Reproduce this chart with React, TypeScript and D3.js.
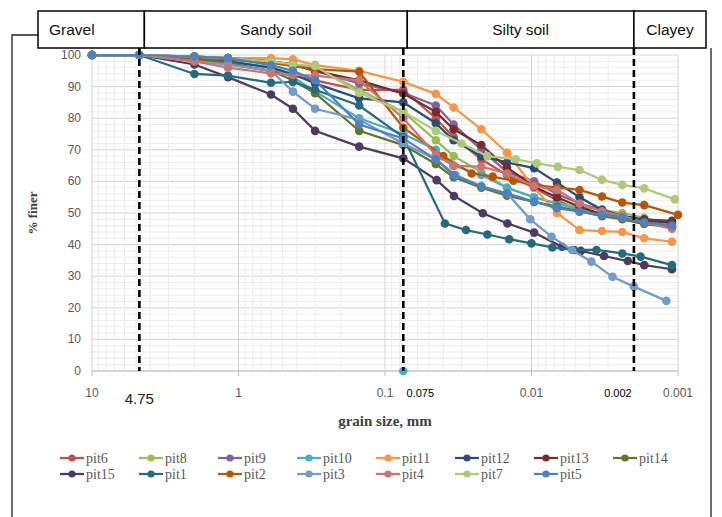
import * as d3 from 'd3';

// sieve sizes (mm) shared by every pit
const sieveSizes = [10, 4.75, 2.0, 1.18, 0.6, 0.425, 0.3, 0.15, 0.075];
// common hydrometer diameters (mm)
const hydroA = [0.045, 0.034, 0.022, 0.0147, 0.0096, 0.0067, 0.0047, 0.0033, 0.0024, 0.0017, 0.0011];
const hydroPit15 = [0.0444, 0.0338, 0.0215, 0.0146, 0.0096, 0.0062, 0.0046, 0.0032, 0.0022, 0.0017, 0.0011];
const hydroPit1 = [0.039, 0.028, 0.02, 0.0142, 0.01, 0.0072, 0.0051, 0.0036, 0.0024, 0.0018, 0.0011];
const hydroPit2 = [0.04, 0.0256, 0.0184, 0.0133, 0.0096, 0.0067, 0.0047, 0.0033, 0.0024, 0.0017, 0.001];
const hydroPit3 = [0.045, 0.033, 0.022, 0.0145, 0.0102, 0.0073, 0.0053, 0.0039, 0.0028, 0.002, 0.0012];
const hydroPit7 = [0.045, 0.03, 0.02, 0.0128, 0.0092, 0.0066, 0.0047, 0.0033, 0.0024, 0.0017, 0.00105];

// % finer: sieve values then hydrometer values
const pit6 = [100, 100, 98.5, 97, 95, 93.5, 92, 89, 89, 80, 74, 67, 62, 58, 54, 51, 50, 49, 48, 46.5];
const pit8 = [100, 100, 99.5, 99, 98, 97, 96, 89, 82, 73, 68, 63, 58, 55, 53, 52, 51, 50, 48.5, 46];
const pit9 = [100, 100, 99.5, 99, 98, 97, 95, 91, 88, 84, 78, 70, 63, 60, 56, 53, 51, 49, 47, 45.5];
const pit10 = [100, 100, 99, 98, 96, 93, 88.5, 80, 75, 70, 65, 62, 58, 55, 53, 51, 50, 48.5, 47, 46.5];
const pit11 = [100, 100, 99.5, 99, 99, 98.6, 96.8, 95, 91.5, 87.7, 83.4, 76.5, 69.1, 58, 50, 44.6, 44.3, 44, 42, 40.9];
const pit12 = [100, 100, 99, 98, 96, 94, 91, 86.3, 85, 78.4, 73, 68, 66, 64.2, 59.6, 55, 51, 49, 48, 47.5];
const pit13 = [100, 100, 99.5, 99, 98, 97, 95, 92, 87.8, 82, 76.5, 71.5, 64.4, 58.3, 55, 52, 49.5, 48.5, 47.5, 47];
const pit14 = [100, 100, 99, 97.5, 95, 92, 87.9, 76, 71.5, 65.5, 61.3, 58, 55.5, 53.5, 52, 50.5, 49, 48, 46.5, 45.5];
const pit15 = [100, 100, 97, 93, 87.5, 83, 76, 71, 67.3, 60.4, 55.4, 49.9, 46.7, 43.8, 39.3, 38, 36.4, 34.8, 33.5, 32.2];
const pit1 = [100, 100, 94, 93.5, 91.2, 91.5, 89, 84, 74, 46.7, 44.6, 43.2, 41.7, 40.4, 39.1, 38.3, 38.3, 37.2, 36.2, 33.5];
const pit2 = [100, 100, 99, 98.5, 97.5, 96.5, 95.5, 94.7, 77, 68, 62.5, 61.5, 60.2, 58.9, 58, 57.3, 55.2, 53.3, 52.5, 49.4];
const pit3 = [100, 100, 98, 97, 95, 88.4, 83, 79.5, 72, 67, 62, 58.5, 56, 48, 42.5, 38.3, 34.6, 29.8, 26.7, 22.2];
const pit4 = [100, 100, 98, 96, 94.2, 93.7, 93.5, 92, 80, 68.4, 64.9, 64.7, 62.5, 58.5, 57.3, 53, 50.5, 49, 47, 45];
const pit7 = [100, 100, 99.5, 99, 98, 97, 96.5, 88, 82, 76, 72, 68, 67, 65.7, 64.6, 63.6, 60.5, 58.9, 57.8, 54.3];
const pit5 = [100, 100, 99.5, 99, 96.8, 95, 92, 78, 73.6, 67, 62, 58.3, 56.2, 53.6, 51.5, 50.4, 49.5, 48.5, 47, 46];

// lone reading at 0.075 mm
const strayD = [0.075];
const strayP = [0];

const pitNames = ['pit6', 'pit8', 'pit9', 'pit10', 'pit11', 'pit12', 'pit13', 'pit14',
  'pit15', 'pit1', 'pit2', 'pit3', 'pit4', 'pit7', 'pit5'];
const pitValues = [pit6, pit8, pit9, pit10, pit11, pit12, pit13, pit14, pit15, pit1, pit2, pit3, pit4, pit7, pit5];
const pitHydro = [hydroA, hydroA, hydroA, hydroA, hydroA, hydroA, hydroA, hydroA,
  hydroPit15, hydroPit1, hydroPit2, hydroPit3, hydroA, hydroPit7, hydroA];
const pitColors = ['#C0504D', '#9BBB59', '#8064A2', '#4BACC6', '#F79646', '#2C4D75', '#772C2A', '#5F7530',
  '#4D3B62', '#276A7C', '#B65708', '#729ACA', '#CD7371', '#AFC97A', '#4F81BD'];

const xTickLabels = ['10', '1', '0.1', '0.01', '0.001'];
const yTicks = [0, 10, 20, 30, 40, 50, 60, 70, 80, 90, 100];
const zoneNames = ['Gravel', 'Sandy soil', 'Silty soil', 'Clayey'];
const zoneBounds = [4.75, 0.075, 0.002];

export default function App() {
  const width = 722;
  const height = 517;
  const plot = { left: 92, right: 678, top: 55, bottom: 371 };

  const x = d3.scaleLog().domain([10, 0.001]).range([plot.left, plot.right]);
  const y = d3.scaleLinear().domain([0, 100]).range([plot.bottom, plot.top]);

  const line = d3.line<[number, number]>()
    .x(d => x(d[0]))
    .y(d => y(d[1]));

  const series = pitNames.map((name, i) => {
    const sizes = sieveSizes.concat(pitHydro[i]);
    const pts: [number, number][] = sizes.map((s, j) => [s, pitValues[i][j]]);
    return { name, color: pitColors[i], pts };
  });

  const vTicks = x.ticks();
  const isMajor = (v: number) => Math.abs(Math.log10(v) - Math.round(Math.log10(v))) < 1e-9;
  const hLines = d3.range(0, 101, 2);

  const sans = 'Liberation Sans, Arial, sans-serif';
  const serif = 'Liberation Serif, Times New Roman, serif';

  // header boxes sit a little right of the boundary lines, as in the source figure
  const headerX = [38, x(zoneBounds[0]) + 5, x(zoneBounds[1]) + 4, x(zoneBounds[2]), 706];
  const headerTop = 11;
  const headerBottom = 48;

  // legend layout: 8 columns
  const legCol = 79;
  const legX0 = 60;
  const legRows = [458, 474];

  return (
    <svg width={width} height={height} style={{ position: 'absolute', left: 0, top: 0, background: '#fff' }}>
      {/* chart frame */}
      <path d={`M12,517 V35 H38`} fill="none" stroke="#222" strokeWidth={1.3} />
      <line x1={711} x2={711} y1={48} y2={517} stroke="#222" strokeWidth={1.3} />

      {/* gridlines */}
      {hLines.map(v => (
        <line key={'h' + v} x1={plot.left} x2={plot.right} y1={y(v)} y2={y(v)}
          stroke={v % 10 === 0 ? '#d4d4d4' : '#ededed'} strokeWidth={1} />
      ))}
      {vTicks.map((v, i) => (
        <line key={'v' + i} x1={x(v)} x2={x(v)} y1={plot.top} y2={plot.bottom}
          stroke={isMajor(v) ? '#d4d4d4' : '#ededed'} strokeWidth={1} />
      ))}

      {/* x axis */}
      <line x1={plot.left} x2={plot.right} y1={plot.bottom} y2={plot.bottom} stroke="#bfbfbf" strokeWidth={1} />
      {xTickLabels.map(t => (
        <g key={'xt' + t}>
          <line x1={x(+t)} x2={x(+t)} y1={plot.bottom} y2={plot.bottom + 5} stroke="#bfbfbf" />
          <text x={x(+t)} y={plot.bottom + 26} textAnchor="middle" fontFamily={sans} fontSize={12} fill="#595959">{t}</text>
        </g>
      ))}
      {yTicks.map(t => (
        <text key={'yt' + t} x={plot.left - 11} y={y(t) + 4} textAnchor="end" fontFamily={sans} fontSize={12} fill="#595959">{t}</text>
      ))}

      {/* series */}
      {series.map(s => (
        <g key={s.name}>
          <path d={line(s.pts) || ''} fill="none" stroke={s.color} strokeWidth={2.25} />
          {s.pts.map((p, j) => (
            <circle key={j} cx={x(p[0])} cy={y(p[1])} r={4.3} fill={s.color} />
          ))}
        </g>
      ))}
      {strayD.map((d, i) => (
        <circle key={'st' + i} cx={x(d)} cy={y(strayP[i])} r={4.3} fill={pitColors[3]} />
      ))}

      {/* zone boundary lines */}
      {zoneBounds.map(b => (
        <line key={'zb' + b} x1={x(b)} x2={x(b)} y1={headerBottom} y2={plot.bottom}
          stroke="#000" strokeWidth={2.6} strokeDasharray="7,4" />
      ))}
      <text x={x(4.75)} y={404} textAnchor="middle" fontFamily={sans} fontSize={15} fill="#222">4.75</text>
      <text x={x(0.075) + 17} y={397} textAnchor="middle" fontFamily={sans} fontSize={11} fill="#000">0.075</text>
      <text x={x(0.002) - 16} y={397} textAnchor="middle" fontFamily={sans} fontSize={11} fill="#000">0.002</text>

      {/* header zones */}
      {zoneNames.map((z, i) => (
        <g key={z}>
          <rect x={headerX[i]} y={headerTop} width={headerX[i + 1] - headerX[i]} height={headerBottom - headerTop}
            fill="#fff" stroke="#000" strokeWidth={1.5} />
          <text x={i === 0 ? headerX[i] + 11 : (headerX[i] + headerX[i + 1]) / 2} y={35}
            textAnchor={i === 0 ? 'start' : 'middle'} fontFamily={sans} fontSize={15.5} fill="#111">{z}</text>
        </g>
      ))}

      {/* axis titles */}
      <text transform={`translate(37,${(plot.top + plot.bottom) / 2}) rotate(-90)`} textAnchor="middle"
        fontFamily={serif} fontWeight="bold" fontSize={13} fill="#404040">% finer</text>
      <text x={(plot.left + plot.right) / 2} y={426} textAnchor="middle" fontFamily={serif} fontWeight="bold"
        fontSize={15} fill="#404040">grain size, mm</text>

      {/* legend */}
      {series.map((s, i) => {
        const row = i < 8 ? 0 : 1;
        const col = i < 8 ? i : i - 8;
        const lx = legX0 + col * legCol;
        const ly = legRows[row];
        return (
          <g key={'lg' + s.name}>
            <line x1={lx} x2={lx + 24} y1={ly} y2={ly} stroke={s.color} strokeWidth={2.25} />
            <circle cx={lx + 12} cy={ly} r={3.6} fill={s.color} />
            <text x={lx + 26} y={ly + 4.5} fontFamily={serif} fontSize={14} fill="#595959">{s.name}</text>
          </g>
        );
      })}
    </svg>
  );
}
